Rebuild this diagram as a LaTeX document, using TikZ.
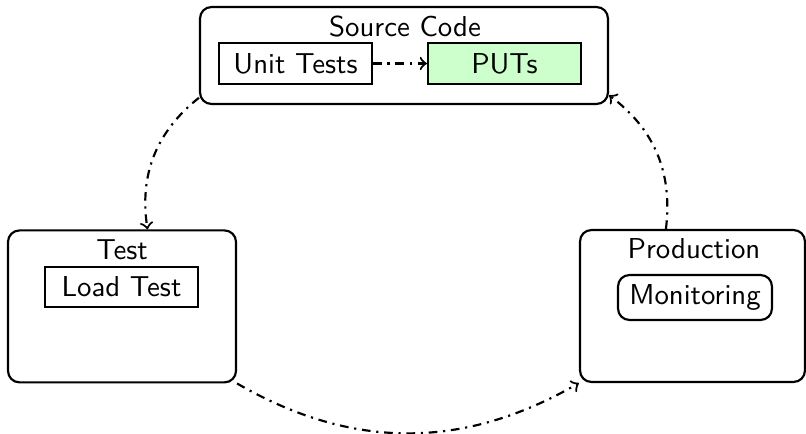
\documentclass[tikz,border=0pt]{standalone}
\begin{document}
\begin{tikzpicture}[x=0.3472pt,y=-0.3472pt, font=\sffamily, line width=0.75pt,
  bigbox/.style={draw, rounded corners=4pt, inner sep=0pt},
  smallbox/.style={draw, minimum width=153*0.3472pt, minimum height=41*0.3472pt, inner sep=0pt},
  title/.style={anchor=base, inner sep=0pt},
  flow/.style={->, dash dot}]
\useasboundingbox (0,0) rectangle (806,434);
% containers
\node[bigbox, minimum width=408*0.3472pt, minimum height=97*0.3472pt] (source) at (404,55.5) {};
\node[bigbox, minimum width=228*0.3472pt, minimum height=152*0.3472pt] (test) at (122,306.4) {};
\node[bigbox, minimum width=225*0.3472pt, minimum height=152*0.3472pt] (prod) at (692.5,306) {};
% titles
\node[title] (sctitle) at (405,37) {Source Code};
\node[title] (testtitle) at (122,260) {Test};
\node[title] (prodtitle) at (694,259) {Production};
% inner boxes
\node[smallbox] (ut) at (295.5,63.5) {Unit Tests};
\node[smallbox, fill=green!20] (puts) at (504.5,63.5) {PUTs};
\node[smallbox, minimum height=40*0.3472pt] (load) at (121.5,287) {Load Test};
\node[smallbox, rounded corners=4pt, minimum width=154*0.3472pt, minimum height=45*0.3472pt] (mon) at (695,297.5) {Monitoring};
% connectors
\draw[flow] (ut) -- (puts);
\draw[flow] (source) to[bend right] (test);
\draw[flow] (test.south east) to[out=-30,in=210] (prod.south west);
\draw[flow] (prod) to[bend right] (source);
\end{tikzpicture}
\end{document}
